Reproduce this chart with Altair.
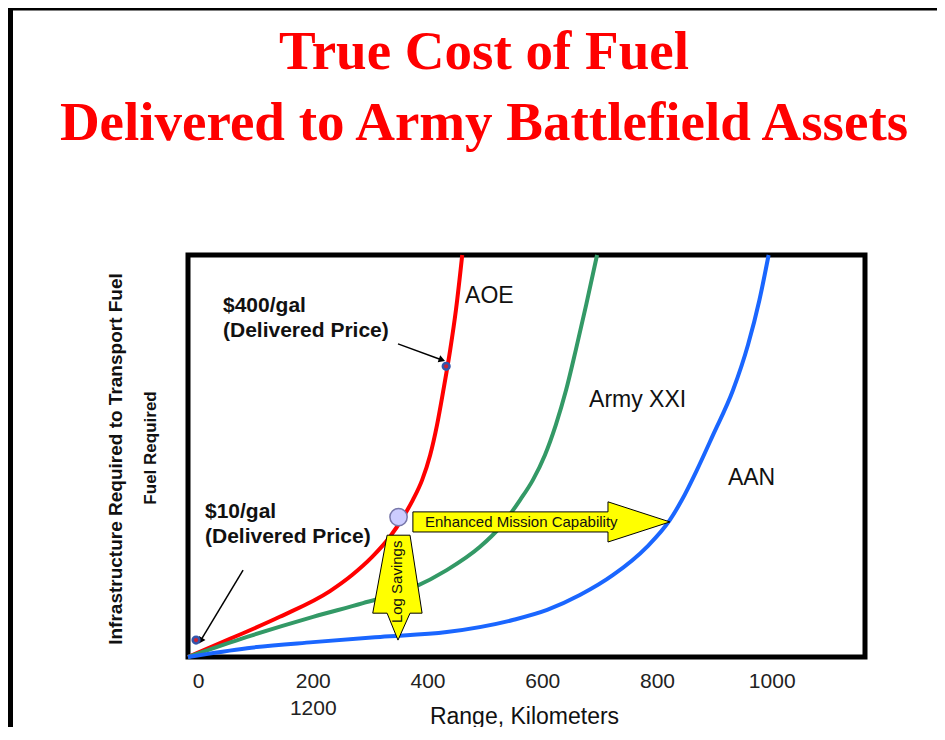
import altair as alt
import pandas as pd

# ---------------- data ----------------
TITLE_LINES = ["True Cost of Fuel", "Delivered to Army Battlefield Assets"]
SERIES = ["AOE", "Army XXI", "AAN"]
COLORS = ["#FF0000", "#339966", "#1A66FF"]

AOE_KM = [0, 73, 160, 247.5, 286, 321, 352, 375, 392, 408, 422, 434, 444.5, 457, 467, 478]
AOE_FUEL = [0, 4.5, 10.0, 16.4, 20.4, 24.9, 29.9, 34.8, 39.1, 44.0, 50.2, 57.7, 65.9, 76.4, 86.3, 100]

XXI_KM = [0, 103, 218, 305, 392, 451, 509, 544, 579, 601, 622, 641, 659, 676, 694, 713]
XXI_FUEL = [0, 5.0, 10.0, 13.4, 17.2, 21.6, 27.4, 32.3, 39.1, 44.0, 50.2, 57.7, 66.4, 76.4, 87.6, 100]

AAN_KM = [0, 103, 218, 335, 451, 566, 626, 683, 741, 800, 840, 861, 887, 915, 950, 976, 996, 1012]
AAN_FUEL = [0, 2.2, 3.7, 5.0, 6.2, 9.2, 11.7, 15.4, 20.4, 27.4, 34.1, 39.1, 46.5, 55.2, 66.4, 77.6, 88.8, 100]

X_TICKS = [0, 200, 400, 600, 800, 1000]
EXTRA_LABEL = "1200"
X_TITLE = "Range, Kilometers"
Y_TITLE = "Infrastructure Required to Transport Fuel"
Y_SUBTITLE = "Fuel Required"

PRICE_TEXT = ["$400/gal", "(Delivered Price)", "$10/gal", "(Delivered Price)"]
PRICE_KM = [61, 61, 29.6, 29.6]
PRICE_FUEL = [85.9, 79.6, 34.6, 28.4]

LABEL_KM = [483, 699, 941]
LABEL_FUEL = [88.0, 62.3, 42.8]

# ---------------- tables ----------------
rows = []
for name, xs_, ys_ in zip(SERIES, [AOE_KM, XXI_KM, AAN_KM], [AOE_FUEL, XXI_FUEL, AAN_FUEL]):
    for i, (a, b) in enumerate(zip(xs_, ys_)):
        rows.append({"series": name, "km": a, "fuel": b, "i": i})
curves = pd.DataFrame(rows)

labels_df = pd.DataFrame({"series": SERIES, "km": LABEL_KM, "fuel": LABEL_FUEL})
price_df = pd.DataFrame({"t": PRICE_TEXT, "km": PRICE_KM, "fuel": PRICE_FUEL})

# block arrows (outline in data units)
h_arrow = pd.DataFrame({"km": [392, 732, 732, 840], "fuel": [31.1, 31.1, 28.6, 33.6],
                        "fuel2": [36.1, 36.1, 38.6, 33.6]})
v_arrow = pd.DataFrame({"fuel": [4.2, 10.9, 10.9, 30.3], "km": [366, 322, 347, 347],
                        "km2": [366, 408, 387, 387]})
arrow_text = pd.DataFrame({"t": ["Enhanced Mission Capability", "Log Savings"],
                           "km": [413, 365], "fuel": [33.6, 18.7]})

pointer = pd.DataFrame({"km": [366, 96], "fuel": [77.9, 21.6], "km2": [442.7, 22], "fuel2": [73.9, 4.05]})
heads = pd.DataFrame({"km": [442.7, 22], "fuel": [73.9, 4.05], "ang": [110, 211]})
small_marks = pd.DataFrame({"km": [450, 14], "fuel": [72.3, 4.2]})
big_mark = pd.DataFrame({"km": [367], "fuel": [34.8]})
one = pd.DataFrame({"a": [0]})
sub_df = pd.DataFrame({"t": [Y_SUBTITLE], "fuel": [52]})

W, H = 677, 402
xs = alt.Scale(domain=[0, 1180], nice=False, zero=False)
ys = alt.Scale(domain=[0, 100], nice=False, zero=False)

SANS = "Liberation Sans"

x_axis = alt.Axis(
    values=X_TICKS, title=X_TITLE, format="d",
    labelExpr="datum.value == 200 ? ['200', '" + EXTRA_LABEL + "'] : datum.label",
    labelFont=SANS, labelFontSize=21, labelColor="#222222", labelLineHeight=27,
    labelOffset=10, labelPadding=13, labelFlush=False, labelOverlap=False,
    ticks=False, tickSize=0, domain=False, grid=False,
    titleFont=SANS, titleFontSize=23, titleFontWeight="normal", titleColor="#111111",
    titleX=336, titleY=66, titleBaseline="alphabetic", titleAlign="center",
)
y_axis = alt.Axis(
    title=Y_TITLE, labels=False, ticks=False, domain=False, grid=False,
    titleFont=SANS, titleFontSize=19, titleFontWeight="bold", titleColor="#111111",
    titleAngle=270, titleX=-72.5, titleY=203.5, titleAlign="center", titleBaseline="middle",
)

X = alt.X("km:Q", scale=xs, axis=x_axis)
Y = alt.Y("fuel:Q", scale=ys, axis=y_axis)

borders = alt.layer(
    alt.Chart(one).mark_rule(color="black", strokeWidth=3).encode(
        x=alt.value(-180), x2=alt.value(757), y=alt.value(-246)),
    alt.Chart(one).mark_rule(color="black", strokeWidth=5).encode(
        x=alt.value(-177.5), y=alt.value(-247), y2=alt.value(472)),
)

lines = alt.Chart(curves).mark_line(strokeWidth=4, interpolate="monotone").encode(
    x=X, y=Y,
    color=alt.Color("series:N", scale=alt.Scale(domain=SERIES, range=COLORS), legend=None),
    order="i:Q",
)

h_arr = alt.Chart(h_arrow).mark_area(orient="vertical", fill="#FFFF00", stroke="black",
                                     strokeWidth=1, interpolate="linear", opacity=1,
                                     fillOpacity=1).encode(
    x=X, y=Y, y2="fuel2:Q")
v_arr = alt.Chart(v_arrow).mark_area(orient="horizontal", fill="#FFFF00", stroke="black",
                                     strokeWidth=1, interpolate="linear", opacity=1,
                                     fillOpacity=1).encode(
    y=Y, x=X, x2="km2:Q")

arr_txt_h = alt.Chart(arrow_text.iloc[[0]]).mark_text(
    font=SANS, fontSize=15, color="#111111", align="left", baseline="middle").encode(
    x=X, y=Y, text="t:N")
arr_txt_v = alt.Chart(arrow_text.iloc[[1]]).mark_text(
    font=SANS, fontSize=15, color="#111111", align="center", baseline="middle", angle=270).encode(
    x=X, y=Y, text="t:N")

ptr = alt.Chart(pointer).mark_rule(color="black", strokeWidth=1.5).encode(
    x=X, y=Y, x2="km2:Q", y2="fuel2:Q")
hd = alt.Chart(heads).mark_point(shape="triangle-up", filled=True, color="black",
                                 size=55, opacity=1).encode(
    x=X, y=Y, angle=alt.Angle("ang:Q", scale=None))

smalls = alt.Chart(small_marks).mark_point(shape="circle", filled=True, fill="#CC2233",
                                           stroke="#3355AA", strokeWidth=2.5, size=45,
                                           opacity=1).encode(x=X, y=Y)
big = alt.Chart(big_mark).mark_point(shape="circle", filled=True, fill="#CCCCFF",
                                     stroke="#7777AA", strokeWidth=1.5, size=300,
                                     opacity=1).encode(x=X, y=Y)

price = alt.Chart(price_df).mark_text(font=SANS, fontSize=21, fontWeight="bold",
                                      color="#111111", align="left",
                                      baseline="alphabetic").encode(x=X, y=Y, text="t:N")
names = alt.Chart(labels_df).mark_text(font=SANS, fontSize=23, color="#111111",
                                       align="left", baseline="alphabetic").encode(
    x=X, y=Y, text="series:N")

sub = alt.Chart(sub_df).mark_text(font=SANS, fontSize=17, fontWeight="bold", color="#111111",
                                  align="center", baseline="middle", angle=270).encode(
    x=alt.value(-37), y=Y, text="t:N")

title = alt.Chart(one).mark_text(text=TITLE_LINES, font="Liberation Serif", fontSize=55,
                                 fontWeight="bold", color="#FF0000", align="center",
                                 baseline="alphabetic", lineHeight=71).encode(
    x=alt.value(296), y=alt.value(-186))

chart = alt.layer(
    borders, lines, h_arr, v_arr, arr_txt_h, arr_txt_v, ptr, hd, smalls, big,
    price, names, sub, title,
).properties(
    width=W, height=H,
    autosize=alt.AutoSizeParams(type="none"),
    padding={"left": 180, "top": 247, "right": 72, "bottom": 70},
    background="white",
).configure_view(stroke="black", strokeWidth=5)

chart.save("out.html", embed_options={"renderer": "svg", "actions": False})
